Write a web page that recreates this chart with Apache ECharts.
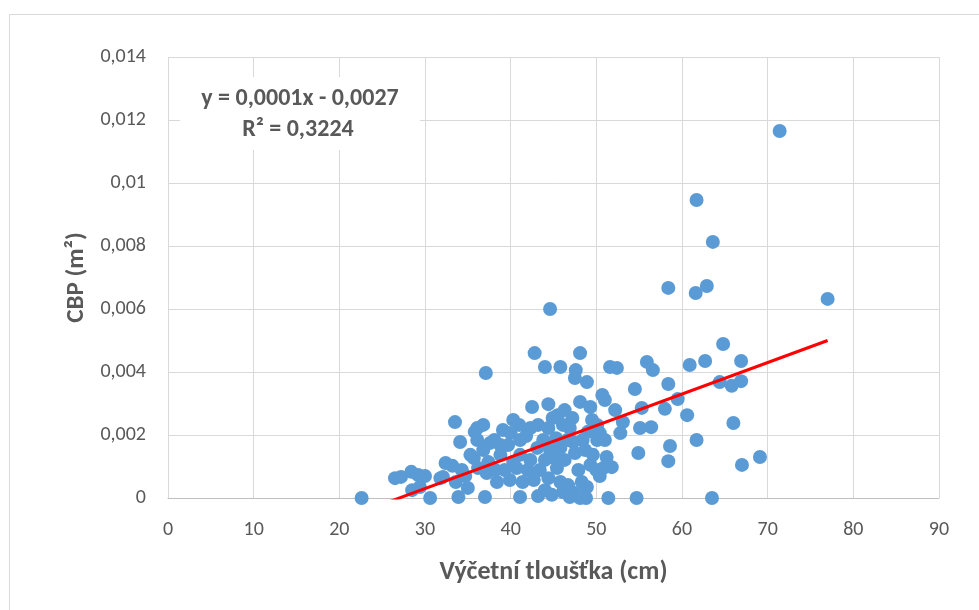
<!DOCTYPE html>
<html>
<head>
<meta charset="utf-8">
<style>
  html, body { margin: 0; padding: 0; background: #ffffff; }
  #chart { width: 979px; height: 610px; }
</style>
<script src="https://cdn.jsdelivr.net/npm/echarts@6/dist/echarts.min.js"></script>
</head>
<body>
<div id="chart"></div>
<script>
// Výčetní tloušťka (cm) of each tree
const dbh = [
  71.4, 61.7, 63.6, 58.4, 62.9, 61.6, 77.0, 44.6, 64.8, 48.1,
  42.8, 62.7, 66.9, 55.9, 60.9, 56.6, 51.6, 52.4, 44.0, 45.8,
  37.1, 47.6, 47.5, 48.9, 54.5, 58.4, 64.4, 65.8, 66.9, 50.7,
  51.0, 59.5, 58.0, 55.3, 60.6, 42.5, 44.4, 48.1, 49.3, 52.2,
  53.1, 66.0, 55.1, 56.4, 52.8, 50.4, 61.7, 58.6, 54.9, 58.4,
  67.0, 69.1, 63.5, 54.7, 51.4, 22.6, 30.6, 37.0, 33.9, 41.1,
  43.2, 46.9, 48.1, 48.8, 26.5, 27.2, 28.4, 29.2, 30.0, 28.5,
  29.4, 32.4, 32.1, 33.5, 34.1, 33.6, 34.3, 35.3, 35.0, 35.8,
  36.1, 36.8, 36.1, 36.8, 37.6, 37.4, 36.2, 37.2, 38.2, 38.4,
  38.1, 39.1, 40.0, 40.3, 40.3, 41.1, 41.1, 41.8, 42.3, 42.0,
  42.7, 42.3, 43.1, 43.4, 43.8, 44.0, 44.4, 44.6, 44.9, 45.5,
  45.3, 45.4, 45.8, 46.1, 46.3, 46.6, 46.9, 47.2, 47.5, 47.9,
  48.3, 48.9, 48.4, 49.0, 49.3, 49.6, 50.1, 50.4, 50.8, 51.2,
  51.8, 51.0, 35.7, 38.8, 39.3, 39.9, 40.7, 41.4, 44.0, 44.8,
  46.7, 47.5, 45.8, 43.2, 44.4, 46.1, 46.3, 49.5, 50.1, 33.2,
  34.7, 31.8, 38.8, 41.0, 39.7, 47.3, 48.7, 50.0, 45.1
];

// CBP (m²) of each tree, same order as dbh
const cbp = [
  0.01165, 0.00946, 0.00813, 0.00667, 0.00673, 0.00651, 0.00632, 0.00600, 0.00489, 0.00460,
  0.00460, 0.00435, 0.00435, 0.00432, 0.00422, 0.00406, 0.00416, 0.00413, 0.00416, 0.00416,
  0.00397, 0.00406, 0.00381, 0.00368, 0.00346, 0.00362, 0.00368, 0.00356, 0.00371, 0.00327,
  0.00311, 0.00314, 0.00283, 0.00286, 0.00263, 0.00289, 0.00298, 0.00305, 0.00289, 0.00279,
  0.00241, 0.00238, 0.00222, 0.00225, 0.00206, 0.00206, 0.00184, 0.00165, 0.00143, 0.00117,
  0.00105, 0.00130, 0.00000, 0.00000, 0.00000, 0.00000, 0.00000, 0.00003, 0.00003, 0.00003,
  0.00006, 0.00003, 0.00000, 0.00000, 0.00063, 0.00067, 0.00083, 0.00073, 0.00070, 0.00025,
  0.00035, 0.00111, 0.00067, 0.00241, 0.00178, 0.00051, 0.00089, 0.00137, 0.00032, 0.00210,
  0.00222, 0.00232, 0.00184, 0.00152, 0.00175, 0.00114, 0.00095, 0.00079, 0.00089, 0.00051,
  0.00184, 0.00216, 0.00206, 0.00248, 0.00114, 0.00137, 0.00184, 0.00197, 0.00222, 0.00089,
  0.00057, 0.00121, 0.00159, 0.00089, 0.00184, 0.00121, 0.00063, 0.00152, 0.00254, 0.00263,
  0.00190, 0.00095, 0.00051, 0.00019, 0.00121, 0.00184, 0.00222, 0.00254, 0.00143, 0.00089,
  0.00051, 0.00035, 0.00184, 0.00210, 0.00105, 0.00137, 0.00184, 0.00070, 0.00095, 0.00130,
  0.00098, 0.00184, 0.00127, 0.00137, 0.00089, 0.00057, 0.00095, 0.00051, 0.00025, 0.00010,
  0.00041, 0.00016, 0.00159, 0.00232, 0.00222, 0.00232, 0.00279, 0.00248, 0.00232, 0.00102,
  0.00070, 0.00063, 0.00168, 0.00232, 0.00168, 0.00178, 0.00152, 0.00089, 0.00127
];

// Linear trend line y = slope * x + intercept
const trendSlope = 0.0001;
const trendIntercept = -0.0027;
const trendLabel = ['y = 0,0001x - 0,0027', 'R² = 0,3224'];

// Axis tick labels (Czech decimal comma)
const xTickLabels = ['0', '10', '20', '30', '40', '50', '60', '70', '80', '90'];
const yTickLabels = ['0', '0,002', '0,004', '0,006', '0,008', '0,01', '0,012', '0,014'];

const xTitle = 'Výčetní tloušťka (cm)';
const yTitle = 'CBP (m²)';

const FONT = 'Carlito, Lato, "Liberation Sans", sans-serif';
const TEXT = '#595959';

const points = dbh.map((x, i) => [x, cbp[i]]);
const xMin = Math.min.apply(null, dbh);
const xMax = Math.max.apply(null, dbh);
const trendPoints = [xMin, xMax].map(x => [x, trendSlope * x + trendIntercept]);

const chart = echarts.init(document.getElementById('chart'), null, { renderer: 'canvas' });

chart.setOption({
  backgroundColor: '#ffffff',
  animation: false,
  textStyle: { fontFamily: FONT },
  grid: { left: 168, right: 40, top: 57, bottom: 112, containLabel: false },
  xAxis: {
    type: 'value',
    min: 0, max: 90, interval: 10,
    name: xTitle,
    nameLocation: 'middle',
    nameGap: 61,
    nameTextStyle: { color: TEXT, fontSize: 26, fontWeight: 'bold', fontFamily: FONT },
    axisLine: { show: true, onZero: false, lineStyle: { color: '#bfbfbf', width: 1 } },
    axisTick: { show: false },
    axisLabel: {
      color: TEXT, fontSize: 20, margin: 22, fontFamily: FONT,
      formatter: (v) => xTickLabels[Math.round(v / 10)]
    },
    splitLine: { show: true, lineStyle: { color: '#d9d9d9', width: 1 } }
  },
  yAxis: {
    type: 'value',
    min: 0, max: 0.014, interval: 0.002,
    name: yTitle,
    nameLocation: 'middle',
    nameGap: 62,
    nameRotate: 90,
    nameTextStyle: { color: TEXT, fontSize: 25, fontWeight: 'bold', fontFamily: FONT },
    axisLine: { show: false },
    axisTick: { show: false },
    axisLabel: {
      color: TEXT, fontSize: 20, margin: 22, fontFamily: FONT,
      formatter: (v) => yTickLabels[Math.round(v / 0.002)]
    },
    splitLine: { show: true, lineStyle: { color: '#d9d9d9', width: 1 } }
  },
  series: [
    {
      type: 'scatter',
      data: points,
      symbol: 'circle',
      symbolSize: 14,
      itemStyle: { color: '#5b9bd5', opacity: 1 },
      z: 2
    },
    {
      type: 'line',
      data: trendPoints,
      showSymbol: false,
      symbol: 'none',
      clip: true,
      lineStyle: { color: '#ff0000', width: 3 },
      z: 3
    }
  ],
  graphic: [
    {
      type: 'rect',
      left: 7, top: 12,
      shape: { width: 1000, height: 700 },
      style: { fill: 'none', stroke: '#d9d9d9', lineWidth: 1 },
      silent: true,
      z: 0
    },
    {
      // trend line equation box, drawn above the grid lines
      type: 'rect',
      left: 180, top: 77,
      shape: { width: 240, height: 73 },
      style: { fill: '#ffffff' },
      z: 100
    },
    {
      type: 'text',
      x: 300, y: 99,
      style: {
        text: trendLabel[0], fill: TEXT, font: 'bold 24px ' + FONT,
        align: 'center', verticalAlign: 'middle'
      },
      z: 101
    },
    {
      type: 'text',
      x: 298, y: 130,
      style: {
        text: trendLabel[1], fill: TEXT, font: 'bold 24px ' + FONT,
        align: 'center', verticalAlign: 'middle'
      },
      z: 101
    }
  ]
});
</script>
</body>
</html>
